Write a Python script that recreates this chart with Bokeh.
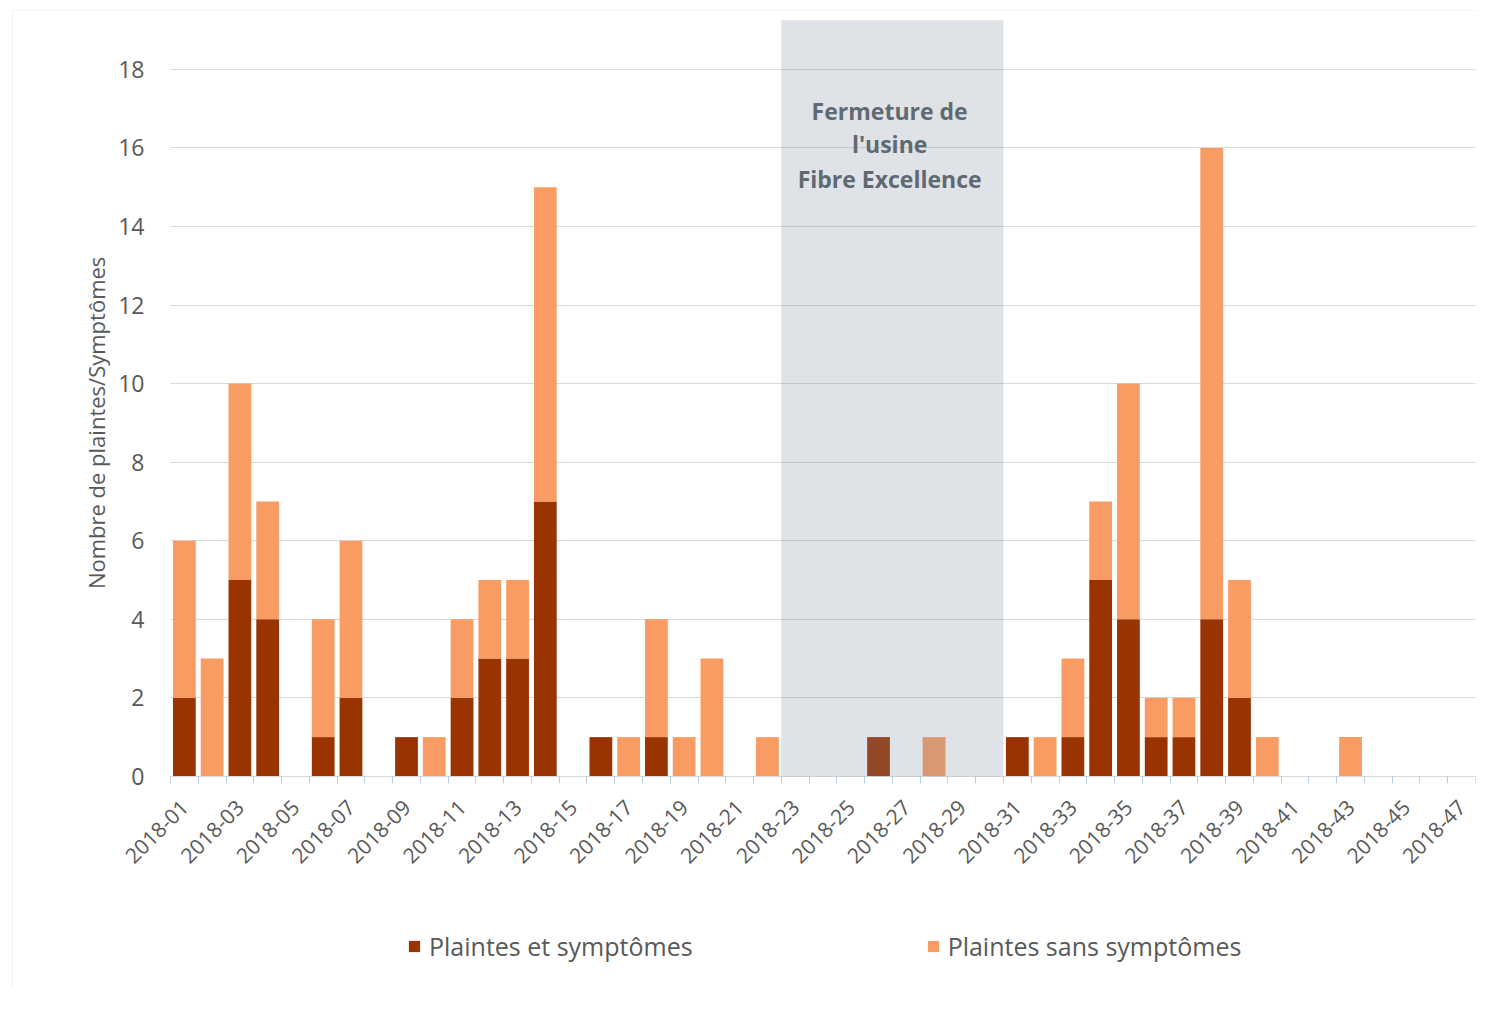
import math
from bokeh.plotting import figure
from bokeh.models import (FixedTicker, BoxAnnotation, Legend, LegendItem,
                          ColumnDataSource, Label, Range1d)
from bokeh.embed import file_html
from bokeh.resources import INLINE

weeks = list(range(1, 48))
week_labels = ["2018-01", "2018-02", "2018-03", "2018-04", "2018-05", "2018-06",
               "2018-07", "2018-08", "2018-09", "2018-10", "2018-11", "2018-12",
               "2018-13", "2018-14", "2018-15", "2018-16", "2018-17", "2018-18",
               "2018-19", "2018-20", "2018-21", "2018-22", "2018-23", "2018-24",
               "2018-25", "2018-26", "2018-27", "2018-28", "2018-29", "2018-30",
               "2018-31", "2018-32", "2018-33", "2018-34", "2018-35", "2018-36",
               "2018-37", "2018-38", "2018-39", "2018-40", "2018-41", "2018-42",
               "2018-43", "2018-44", "2018-45", "2018-46", "2018-47"]
avec_symptomes = [2, 0, 5, 4, 0, 1, 2, 0, 1, 0, 2, 3, 3, 7, 0, 1, 0, 1, 0, 0,
                  0, 0, 0, 0, 0, 1, 0, 0, 0, 0, 1, 0, 1, 5, 4, 1, 1, 4, 2, 0,
                  0, 0, 0, 0, 0, 0, 0]
sans_symptomes = [4, 3, 5, 3, 0, 3, 4, 0, 0, 1, 2, 2, 2, 8, 0, 0, 1, 3, 1, 3,
                  0, 1, 0, 0, 0, 0, 0, 1, 0, 0, 0, 1, 2, 2, 6, 1, 1, 12, 3, 1,
                  0, 0, 1, 0, 0, 0, 0]
y_ticks = [0, 2, 4, 6, 8, 10, 12, 14, 16, 18]
series_names = ["Plaintes et symptômes", "Plaintes sans symptômes"]
y_title = "Nombre de plaintes/Symptômes"
closure_weeks = [23, 30]
closure_text = ["Fermeture de", "l'usine", "Fibre Excellence"]

DARK = "#993300"
LIGHT = "#F89C64"
GREY = "#595959"
FONT = "Open Sans"

source = ColumnDataSource(dict(x=weeks, avec=avec_symptomes, sans=sans_symptomes))

x_lo, x_hi = weeks[0] - 0.5, weeks[-1] + 0.5
Y_TOP = 19.25  # top of the plotting area

# The frame is larger than the bar area so that the pinned axes, their labels,
# the legend and the chart border all sit inside it.
p = figure(width=1483, height=996, output_backend="svg", toolbar_location=None,
           x_range=Range1d(-5.262, x_hi), y_range=Range1d(-5.40, 19.55),
           min_border_left=10, min_border_right=8, min_border_top=8,
           min_border_bottom=8)
p.outline_line_color = None
p.background_fill_color = "white"

renderers = p.vbar_stack(["avec", "sans"], x="x", width=0.82, color=[DARK, LIGHT],
                         line_color=None, source=source)

# x axis pinned at y = 0
p.xaxis.fixed_location = 0
p.xaxis.bounds = (x_lo, x_hi)
p.xaxis.ticker = FixedTicker(ticks=weeks[::2],
                             minor_ticks=[w - 0.5 for w in weeks] + [x_hi])
p.xaxis.major_label_overrides = {w: lab for w, lab in zip(weeks, week_labels)}
p.xaxis.major_label_orientation = 0.785
p.xaxis.major_label_text_font = FONT
p.xaxis.major_label_text_font_size = "21px"
p.xaxis.major_label_text_color = GREY
p.xaxis.major_tick_line_color = None
p.xaxis.minor_tick_line_color = "#b9cde5"
p.xaxis.minor_tick_out = 7
p.xaxis.minor_tick_in = 0
p.xaxis.axis_line_color = "#d9d9d9"
p.xaxis.major_label_standoff = 20

# y axis pinned at the left edge of the bar area
p.yaxis.fixed_location = x_lo
p.yaxis.ticker = FixedTicker(ticks=y_ticks)
p.yaxis.major_label_text_font = FONT
p.yaxis.major_label_text_font_size = "23px"
p.yaxis.major_label_text_color = GREY
p.yaxis.major_label_standoff = 20
p.yaxis.axis_line_color = None
p.yaxis.major_tick_line_color = None
p.yaxis.minor_tick_line_color = None

p.xgrid.grid_line_color = None
p.ygrid.grid_line_color = "#d9d9d9"
p.ygrid.grid_line_width = 1

# hide the grid lines left of the bar area (where the tick labels are)
p.add_layout(BoxAnnotation(right=x_lo, fill_color="white", fill_alpha=1.0,
                           line_color=None, level="underlay"))

# faint chart border (top and left edges)
p.add_layout(BoxAnnotation(left=-5.19, right=x_hi + 3, top=19.50, bottom=-8,
                           fill_alpha=0, line_color="#d4d4d4", line_width=1))

p.add_layout(Label(x=85, x_units="screen", y=9.0, text=y_title,
                   angle=math.pi / 2, text_align="center", text_baseline="middle",
                   text_font=FONT, text_font_size="22px", text_color=GREY))

# closure shading
box = BoxAnnotation(left=closure_weeks[0] - 0.5, right=closure_weeks[1] + 0.5,
                    bottom=0, top=Y_TOP, fill_color="#7f8c9a", fill_alpha=0.25,
                    line_color=None)
p.add_layout(box)

for txt, yy in zip(closure_text, [16.95, 16.1, 15.22]):
    p.add_layout(Label(x=(closure_weeks[0] + closure_weeks[1]) / 2 - 0.1, y=yy,
                       text=txt, text_align="center", text_baseline="middle",
                       text_font=FONT, text_font_style="bold",
                       text_font_size="23px", text_color="#5f6a72"))

legend = Legend(items=[LegendItem(label=series_names[0], renderers=[renderers[0]]),
                       LegendItem(label=series_names[1], renderers=[renderers[1]])],
                orientation="horizontal", location=(397, 25),
                label_text_font=FONT, label_text_font_size="25px",
                label_text_color=GREY, glyph_width=14, glyph_height=14,
                spacing=233, border_line_color=None, background_fill_alpha=0,
                margin=0, padding=0, label_standoff=8)
p.add_layout(legend, "center")

open("out.html", "w").write(file_html(p, INLINE))
